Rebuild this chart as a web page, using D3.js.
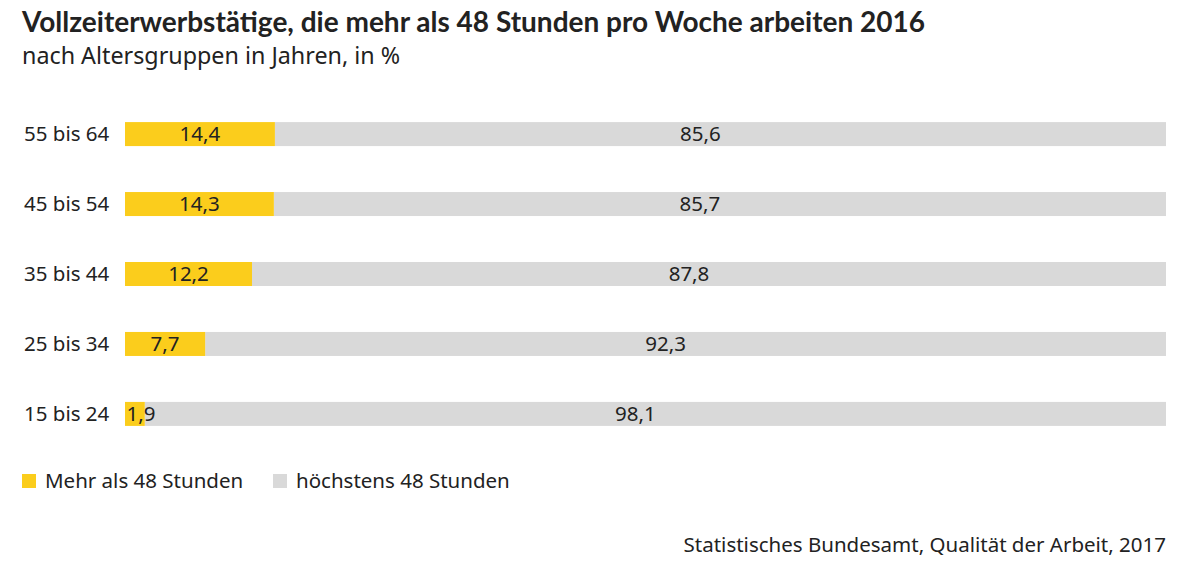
<!DOCTYPE html>
<html>
<head>
<meta charset="utf-8">
<script src="https://cdn.jsdelivr.net/npm/d3@7"></script>
<style>
  body { margin: 0; background: #fff; }
  text { font-family: "Noto Sans", Lato, sans-serif; fill: #222; }
  .title { font-family: Lato, "Noto Sans", sans-serif; }
</style>
</head>
<body>
<div id="chart"></div>
<script>
// Data
const groups = ["55 bis 64", "45 bis 54", "35 bis 44", "25 bis 34", "15 bis 24"];
const mehr = [14.4, 14.3, 12.2, 7.7, 1.9];
const hoechstens = [85.6, 85.7, 87.8, 92.3, 98.1];
const seriesNames = ["Mehr als 48 Stunden", "höchstens 48 Stunden"];
const colors = ["#fbcd1c", "#d9d9d9"];

const W = 1200, H = 572;
const fmt = v => String(v).replace(".", ",");
const labelSize = "20.5px";

const svg = d3.select("#chart").append("svg")
    .attr("width", W)
    .attr("height", H);

// Title and subtitle
svg.append("text")
    .attr("class", "title")
    .attr("x", 22).attr("y", 32)
    .style("font-size", "28px")
    .style("font-weight", "bold")
    .text("Vollzeiterwerbstätige, die mehr als 48 Stunden pro Woche arbeiten 2016");

svg.append("text")
    .attr("x", 22).attr("y", 64)
    .style("font-size", "23.3px")
    .text("nach Altersgruppen in Jahren, in %");

// Scales
const x = d3.scaleLinear().domain([0, 100]).range([125, 1166]);
const y = d3.scaleBand().domain(groups).range([99, 449]).paddingInner(0.657).paddingOuter(0.33);

const rows = groups.map((g, i) => ({ group: g, a: mehr[i], b: hoechstens[i] }));

const row = svg.selectAll(".row")
    .data(rows)
    .enter().append("g")
    .attr("class", "row");

// Category labels
row.append("text")
    .attr("x", 24)
    .attr("y", d => y(d.group) + y.bandwidth() / 2)
    .attr("dy", "0.35em")
    .style("font-size", labelSize)
    .text(d => d.group);

// Grey bars
row.append("rect")
    .attr("x", d => x(d.a))
    .attr("y", d => y(d.group))
    .attr("width", d => x(d.a + d.b) - x(d.a))
    .attr("height", y.bandwidth())
    .attr("fill", colors[1]);

// Yellow bars
row.append("rect")
    .attr("x", x(0))
    .attr("y", d => y(d.group))
    .attr("width", d => x(d.a) - x(0))
    .attr("height", y.bandwidth())
    .attr("fill", colors[0]);

// Value labels
row.append("text")
    .attr("x", d => Math.max((x(0) + x(d.a)) / 2, x(0) + 16))
    .attr("y", d => y(d.group) + y.bandwidth() / 2)
    .attr("dy", "0.35em")
    .attr("text-anchor", "middle")
    .style("font-size", labelSize)
    .text(d => fmt(d.a));

row.append("text")
    .attr("x", d => (x(d.a) + x(d.a + d.b)) / 2 - 20)
    .attr("y", d => y(d.group) + y.bandwidth() / 2)
    .attr("dy", "0.35em")
    .attr("text-anchor", "middle")
    .style("font-size", labelSize)
    .text(d => fmt(d.b));

// Legend
const legendX = [22, 273];
const legend = svg.selectAll(".legend")
    .data(seriesNames)
    .enter().append("g")
    .attr("class", "legend")
    .attr("transform", (d, i) => `translate(${legendX[i]},474)`);

legend.append("rect")
    .attr("width", 14).attr("height", 14)
    .attr("fill", (d, i) => colors[i]);

legend.append("text")
    .attr("x", 23).attr("y", 7)
    .attr("dy", "0.35em")
    .style("font-size", labelSize)
    .text(d => d);

// Source
svg.append("text")
    .attr("x", 1166).attr("y", 552)
    .attr("text-anchor", "end")
    .style("font-size", labelSize)
    .text("Statistisches Bundesamt, Qualität der Arbeit, 2017");
</script>
</body>
</html>
